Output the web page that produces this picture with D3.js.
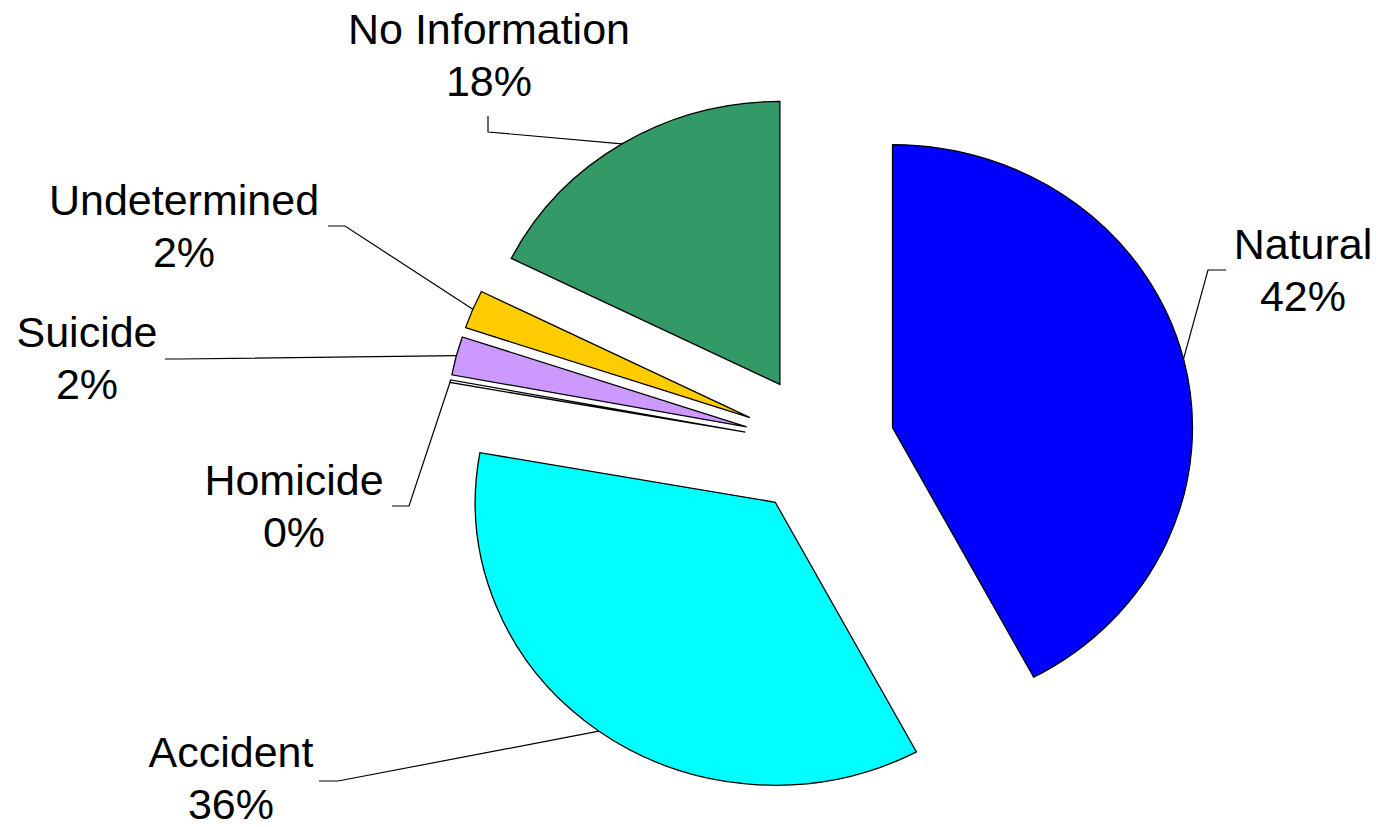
<!DOCTYPE html>
<html>
<head>
<meta charset="utf-8">
<script src="https://cdn.jsdelivr.net/npm/d3@7"></script>
<style>
  html, body { margin: 0; padding: 0; background: #ffffff; }
  svg { display: block; }
</style>
</head>
<body>
<svg id="chart" width="1379" height="827"></svg>
<script>
// Manner of death, share of cases (%), clockwise from 12 o'clock
const categories = ["Natural", "Accident", "Homicide", "Suicide", "Undetermined", "No Information"];
const shares = [42.2, 35.6, 0.15, 2.2, 2.2, 17.65];
const colors = ["#0000FF", "#00FFFF", "#FFFFFF", "#CC99FF", "#FFCC00", "#339966"];

// Label placement: text centre x, first baseline y, leader start and elbow
const labelLayout = [
  { x: 1303, y: 259, start: [1226, 270], elbow: [1208, 270] },
  { x: 231,  y: 767, start: [319, 781],  elbow: [338, 781] },
  { x: 294,  y: 495, start: [392, 506],  elbow: [409, 506] },
  { x: 87,   y: 347, start: [165, 359],  elbow: [180, 359] },
  { x: 184,  y: 215, start: [328, 226],  elbow: [345, 226] },
  { x: 489,  y: 44,  start: [488, 116],  elbow: [488, 132] }
];

const cx = 819.5, cy = 444.8;   // pie centre
const radius = 283;             // pie radius
const stretchX = 1.06;          // horizontal stretch of the pie
const explode = 71;             // distance each slice is pulled out
const lineGap = 52;             // spacing between label lines

const data = categories.map((c, i) => ({ category: c, share: shares[i], color: colors[i], layout: labelLayout[i] }));

const svg = d3.select("#chart");

const pie = d3.pie().sort(null).value(d => d.share);
const arc = d3.arc().innerRadius(0).outerRadius(radius);
const arcs = pie(data);

const midAngle = a => (a.startAngle + a.endAngle) / 2;
const offsetOf = a => [explode * Math.sin(midAngle(a)), -explode * Math.cos(midAngle(a))];

const pieGroup = svg.append("g")
  .attr("transform", `translate(${cx},${cy}) scale(${stretchX},1)`);

pieGroup.selectAll("path.slice")
  .data(arcs)
  .join("path")
  .attr("class", "slice")
  .attr("transform", a => `translate(${offsetOf(a)[0]},${offsetOf(a)[1]})`)
  .attr("d", arc)
  .attr("fill", a => a.data.color)
  .attr("stroke", "#000")
  .attr("stroke-width", 1.3)
  .attr("stroke-linejoin", "miter")
  .attr("vector-effect", "non-scaling-stroke");

// point on a slice's outer edge at its middle angle, in page coordinates
const edgePoint = a => {
  const [ox, oy] = offsetOf(a);
  const m = midAngle(a);
  const u = ox + radius * Math.sin(m);
  const v = oy - radius * Math.cos(m);
  return [cx + stretchX * u, cy + v];
};

const line = d3.line();

svg.append("g").selectAll("path.leader")
  .data(arcs)
  .join("path")
  .attr("class", "leader")
  .attr("d", a => line([a.data.layout.start, a.data.layout.elbow, edgePoint(a)]))
  .attr("fill", "none")
  .attr("stroke", "#000")
  .attr("stroke-width", 1.2);

const labels = svg.append("g")
  .attr("font-family", "'Liberation Sans', Arial, Helvetica, sans-serif")
  .attr("font-size", 43)
  .attr("fill", "#000")
  .attr("text-anchor", "middle");

const fmt = v => `${Math.round(v)}%`;

labels.selectAll("text")
  .data(arcs)
  .join("text")
  .each(function (a) {
    const t = d3.select(this);
    const L = a.data.layout;
    t.append("tspan").attr("x", L.x).attr("y", L.y).text(a.data.category);
    t.append("tspan").attr("x", L.x).attr("y", L.y + lineGap).text(fmt(a.data.share));
  });
</script>
</body>
</html>
